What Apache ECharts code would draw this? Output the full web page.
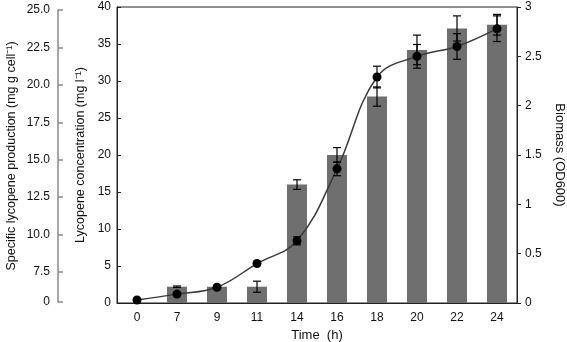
<!DOCTYPE html>
<html>
<head>
<meta charset="utf-8">
<script src="https://cdn.jsdelivr.net/npm/echarts@6/dist/echarts.min.js"></script>
<style>
  html, body { margin: 0; padding: 0; background: #fff; }
  #show_picture { width: 567px; height: 342px; }
</style>
</head>
<body>
<div id="show_picture"></div>
<script>
// sampling time (h)
const times = ['0', '7', '9', '11', '14', '16', '18', '20', '22', '24'];
// lycopene concentration (mg/l), bars
const lycopene = [0, 2.2, 2.2, 2.2, 16.0, 20.0, 27.9, 34.2, 37.1, 37.6];
const lycopeneErr = [0, 0.1, 0, 0.75, 0.65, 1.0, 1.3, 2.0, 1.7, 1.4];
// biomass (OD600), line
const biomass = [0.03, 0.09, 0.16, 0.40, 0.63, 1.36, 2.29, 2.50, 2.60, 2.78];
const biomassErr = [0, 0, 0, 0, 0.04, 0.07, 0.11, 0.12, 0.13, 0.13];
// outer left axis ticks (broken axis, bottom shown as 0)
const specificTicks = [5.5, 7.5, 10, 12.5, 15, 17.5, 20, 22.5, 25];

const font = 'Liberation Sans, Arial, sans-serif';
const txt = '#111';

let myChart = echarts.init(document.getElementById('show_picture'));

function errData(vals, errs) {
    let out = [];
    for (let i = 0; i < vals.length; i++) {
        if (errs[i] > 0) out.push([i, vals[i] - errs[i], vals[i] + errs[i]]);
    }
    return out;
}

function errRender(params, api) {
    let lo = api.coord([api.value(0), api.value(1)]);
    let hi = api.coord([api.value(0), api.value(2)]);
    let w = 4;
    let st = { stroke: '#000', lineWidth: 1.2 };
    return {
        type: 'group',
        children: [
            { type: 'line', shape: { x1: hi[0], y1: hi[1], x2: lo[0], y2: lo[1] }, style: st },
            { type: 'line', shape: { x1: hi[0] - w, y1: hi[1], x2: hi[0] + w, y2: hi[1] }, style: st },
            { type: 'line', shape: { x1: lo[0] - w, y1: lo[1], x2: lo[0] + w, y2: lo[1] }, style: st }
        ]
    };
}

let option = {
    animation: false,
    textStyle: { fontFamily: font, color: txt },
    grid: [
        { left: 117, right: 50, top: 7, bottom: 39, show: true, borderColor: '#222', borderWidth: 1, outerBoundsMode: 'none' },
        { left: 58, width: 1, top: 10, bottom: 40, outerBoundsMode: 'none' }
    ],
    xAxis: [
        {
            type: 'category',
            data: times,
            gridIndex: 0,
            name: 'Time  (h)',
            nameLocation: 'middle',
            nameGap: 25,
            nameTextStyle: { fontSize: 13, color: txt, fontFamily: font },
            axisLine: { lineStyle: { color: '#222', width: 1 } },
            axisTick: { inside: true, length: 3, lineStyle: { color: '#222' } },
            axisLabel: { fontSize: 12, color: txt, margin: 9 }
        },
        { type: 'value', gridIndex: 1, show: false, min: 0, max: 1 }
    ],
    yAxis: [
        {
            type: 'value',
            gridIndex: 0,
            position: 'left',
            min: 0, max: 40, interval: 5,
            name: 'Lycopene concentration (mg l\u207B\u00B9)',
            nameLocation: 'middle',
            nameGap: 28,
            nameTextStyle: { fontSize: 12.5, color: txt, fontFamily: font },
            splitLine: { show: false },
            axisLine: { show: true, lineStyle: { color: '#222' } },
            axisTick: { show: true, inside: true, length: 4, lineStyle: { color: '#222' } },
            axisLabel: { fontSize: 12, color: txt, margin: 6 }
        },
        {
            type: 'value',
            gridIndex: 0,
            position: 'right',
            min: 0, max: 3, interval: 0.5,
            name: 'Biomass (OD600)',
            nameLocation: 'middle',
            nameRotate: -90,
            nameGap: 36,
            nameTextStyle: { fontSize: 13, color: txt, fontFamily: font },
            splitLine: { show: false },
            axisLine: { show: true, lineStyle: { color: '#222' } },
            axisTick: { show: true, length: 4, lineStyle: { color: '#222' } },
            axisLabel: { fontSize: 12, color: txt, margin: 8 }
        },
        {
            type: 'value',
            gridIndex: 1,
            position: 'left',
            min: 5.5, max: 25,
            name: 'Specific lycopene production (mg g cell\u207B\u00B9)',
            nameLocation: 'middle',
            nameGap: 40,
            nameTextStyle: { fontSize: 12.5, color: txt, fontFamily: font },
            splitLine: { show: false },
            axisLine: { show: true, lineStyle: { color: '#8a8a8a', width: 1.5 } },
            axisTick: { show: true, inside: true, length: 5, customValues: specificTicks, lineStyle: { color: '#8a8a8a', width: 1.5 } },
            axisLabel: {
                fontSize: 12, color: txt, margin: 8,
                customValues: specificTicks,
                formatter: v => (v < 7 ? '0' : v.toFixed(1))
            }
        }
    ],
    series: [
        {
            type: 'bar',
            name: 'Lycopene',
            xAxisIndex: 0, yAxisIndex: 0,
            data: lycopene,
            barWidth: 20,
            itemStyle: { color: '#6f6f6f' },
            z: 1
        },
        {
            type: 'custom',
            name: 'Lycopene error',
            xAxisIndex: 0, yAxisIndex: 0,
            data: errData(lycopene, lycopeneErr),
            renderItem: errRender,
            z: 3
        },
        {
            type: 'line',
            name: 'Biomass',
            xAxisIndex: 0, yAxisIndex: 1,
            data: biomass,
            smooth: 0.4,
            symbol: 'circle',
            symbolSize: 9,
            lineStyle: { color: '#3a3a3a', width: 1.5 },
            itemStyle: { color: '#000' },
            z: 4
        },
        {
            type: 'custom',
            name: 'Biomass error',
            xAxisIndex: 0, yAxisIndex: 1,
            data: errData(biomass, biomassErr),
            renderItem: errRender,
            z: 5
        }
    ]
};

option && myChart.setOption(option);
</script>
</body>
</html>
